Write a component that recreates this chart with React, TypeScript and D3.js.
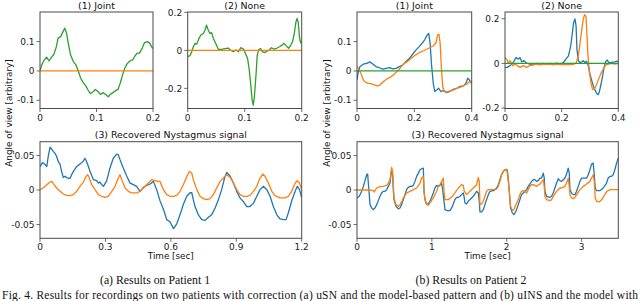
import React, { useEffect } from "react";
import * as d3 from "d3";

type Pt = [number, number];

const BLUE = "#1f77b4";
const ORANGE = "#ff7f0e";
const GREEN = "#2ca02c";

// ---------- Patient 1, panel (1) Joint ----------
const p1JointGreen: Pt[] = [
  [0, 0], [0.003, 0.02], [0.0076, 0.038], [0.0118, 0.047], [0.016, 0.034], [0.0206, 0.047],
  [0.0247, 0.057], [0.029, 0.083], [0.032, 0.112], [0.0365, 0.117], [0.041, 0.135], [0.044, 0.146],
  [0.047, 0.129], [0.05, 0.095], [0.054, 0.055], [0.059, 0.032], [0.0635, 0.021], [0.068, -0.002],
  [0.072, -0.025], [0.0765, -0.04], [0.081, -0.051], [0.085, -0.065], [0.089, -0.077], [0.094, -0.071],
  [0.098, -0.063], [0.103, -0.071], [0.107, -0.08], [0.112, -0.074], [0.116, -0.08], [0.121, -0.088],
  [0.125, -0.079], [0.129, -0.074], [0.134, -0.067], [0.138, -0.063], [0.142, -0.042], [0.146, -0.014],
  [0.15, 0.009], [0.154, 0.024], [0.159, 0.034], [0.164, 0.038], [0.168, 0.051], [0.172, 0.061],
  [0.176, 0.061], [0.181, 0.078], [0.185, 0.097], [0.19, 0.1], [0.194, 0.095], [0.199, 0.078], [0.2, 0.08],
];
const p1JointOrange: Pt[] = [[0, 0], [0.2, 0]];

// ---------- Patient 1, panel (2) None ----------
const p1NoneGreen: Pt[] = [
  [0, -0.033], [0.004, -0.028], [0.007, -0.007], [0.0099, 0.019], [0.013, 0.037], [0.016, 0.033],
  [0.019, 0.058], [0.023, 0.081], [0.0275, 0.089], [0.0304, 0.107], [0.033, 0.133], [0.036, 0.107],
  [0.039, 0.089], [0.042, 0.093], [0.045, 0.063], [0.049, 0.037], [0.054, 0.005], [0.06, 0.005],
  [0.065, 0.009], [0.071, 0.012], [0.075, 0.002], [0.08, -0.007], [0.085, 0.002], [0.089, -0.007],
  [0.093, 0.014], [0.098, 0.007], [0.1, -0.007], [0.105, -0.042], [0.108, -0.103], [0.111, -0.191],
  [0.113, -0.26], [0.115, -0.288], [0.117, -0.244], [0.12, -0.121], [0.122, -0.025], [0.125, 0.005],
  [0.128, 0.009], [0.131, -0.007], [0.135, -0.012], [0.14, -0.0035], [0.143, 0.002], [0.147, 0.014],
  [0.151, 0.007], [0.156, 0.011], [0.161, 0.019], [0.165, 0.026], [0.169, 0.037], [0.1725, 0.025],
  [0.177, 0.011], [0.181, 0.028], [0.184, 0.046], [0.187, 0.089], [0.19, 0.151], [0.192, 0.168],
  [0.194, 0.146], [0.196, 0.072], [0.198, 0.04], [0.2, 0.046],
];
const p1NoneOrange: Pt[] = [[0, 0], [0.2, 0]];

// ---------- Patient 2, panel (1) Joint ----------
const p2JointBlue: Pt[] = [
  [0, -0.031], [0.0047, -0.002], [0.0105, 0.015], [0.022, 0.023], [0.034, 0.026], [0.045, 0.031],
  [0.055, 0.024], [0.066, 0.015], [0.078, 0.011], [0.09, 0.006], [0.101, 0.009], [0.113, 0.011],
  [0.124, 0.007], [0.136, 0.009], [0.148, 0.015], [0.159, 0.02], [0.171, 0.032], [0.183, 0.043],
  [0.194, 0.057], [0.206, 0.072], [0.217, 0.083], [0.229, 0.097], [0.237, 0.108], [0.245, 0.123],
  [0.25, 0.128], [0.255, 0.094], [0.26, 0.02], [0.266, -0.042], [0.271, -0.07], [0.278, -0.065],
  [0.285, -0.059], [0.292, -0.07], [0.301, -0.067], [0.313, -0.074], [0.324, -0.07], [0.336, -0.0625],
  [0.348, -0.059], [0.359, -0.053], [0.371, -0.051], [0.38, -0.042], [0.386, -0.025], [0.392, -0.031],
  [0.4, -0.042],
];
const p2JointOrange: Pt[] = [
  [0, 0.015], [0.0047, 0.009], [0.0105, -0.002], [0.016, -0.014], [0.022, -0.031], [0.03, -0.039],
  [0.04, -0.042], [0.051, -0.044], [0.063, -0.048], [0.071, -0.051], [0.08, -0.048], [0.092, -0.036],
  [0.103, -0.028], [0.115, -0.022], [0.127, -0.014], [0.138, -0.003], [0.15, 0.009], [0.162, 0.024],
  [0.173, 0.03], [0.185, 0.04], [0.197, 0.049], [0.208, 0.057], [0.22, 0.064], [0.231, 0.068],
  [0.243, 0.074], [0.255, 0.08], [0.266, 0.085], [0.276, 0.097], [0.281, 0.123], [0.286, 0.125],
  [0.29, 0.094], [0.294, 0.015], [0.299, -0.053], [0.303, -0.067], [0.313, -0.072], [0.324, -0.068],
  [0.336, -0.065], [0.348, -0.059], [0.359, -0.056], [0.371, -0.051], [0.383, -0.044], [0.394, -0.036],
  [0.4, -0.036],
];
const p2JointGreen: Pt[] = [[0, 0], [0.4, 0]];

// ---------- Patient 2, panel (2) None ----------
const p2NoneBlue: Pt[] = [
  [0, -0.018], [0.008, -0.018], [0.018, -0.01], [0.029, 0.004], [0.039, 0.026], [0.047, 0.019],
  [0.053, 0.026], [0.059, 0.007], [0.067, 0.012], [0.076, 0.001], [0.088, -0.003], [0.1, -0.007],
  [0.112, 0], [0.124, -0.004], [0.135, 0], [0.147, -0.004], [0.159, 0], [0.171, -0.003],
  [0.182, 0.001], [0.194, -0.003], [0.206, 0.004], [0.215, 0.019], [0.224, 0.034], [0.232, 0.078],
  [0.238, 0.137], [0.242, 0.181], [0.247, 0.199], [0.251, 0.166], [0.254, 0.063], [0.259, 0.012],
  [0.265, 0.004], [0.271, 0.007], [0.276, 0.012], [0.282, 0.004], [0.288, 0.01], [0.294, -0.01],
  [0.3, -0.047], [0.306, -0.076], [0.312, -0.101], [0.318, -0.121], [0.324, -0.135], [0.329, -0.14],
  [0.333, -0.128], [0.338, -0.099], [0.344, -0.062], [0.349, -0.022], [0.355, 0.007], [0.361, 0.015],
  [0.368, 0.001], [0.376, 0.004], [0.388, 0.007], [0.394, 0.01], [0.4, 0.007],
];
const p2NoneOrange: Pt[] = [
  [0, 0.026], [0.006, 0.019], [0.012, 0.001], [0.018, 0.012], [0.027, -0.01], [0.035, -0.003],
  [0.044, -0.01], [0.053, -0.018], [0.065, -0.01], [0.076, -0.018], [0.088, -0.01], [0.1, -0.006],
  [0.112, -0.003], [0.124, -0.007], [0.135, -0.003], [0.147, -0.006], [0.159, -0.003], [0.171, -0.007],
  [0.182, -0.003], [0.194, -0.006], [0.206, -0.004], [0.218, -0.006], [0.229, -0.006], [0.241, -0.004],
  [0.251, 0.001], [0.259, 0.034], [0.265, 0.093], [0.271, 0.151], [0.276, 0.196], [0.281, 0.218],
  [0.286, 0.21], [0.289, 0.137], [0.293, 0.034], [0.298, -0.04], [0.304, -0.091], [0.309, -0.116],
  [0.315, -0.116], [0.321, -0.101], [0.329, -0.076], [0.338, -0.047], [0.347, -0.025], [0.356, -0.007],
  [0.365, -0.003], [0.376, 0], [0.388, -0.003], [0.4, 0],
];
const p2NoneGreen: Pt[] = [[0, 0], [0.4, 0]];

// ---------- Patient 1, (3) Recovered Nystagmus signal ----------
const p1RecBlue: Pt[] = [
  [0, 0.034], [0.012, 0.04], [0.023, 0.037], [0.031, 0.034], [0.038, 0.049], [0.046, 0.062],
  [0.054, 0.059], [0.061, 0.056], [0.069, 0.053], [0.076, 0.049], [0.084, 0.041], [0.092, 0.037],
  [0.099, 0.027], [0.107, 0.018], [0.115, 0.02], [0.122, 0.018], [0.13, 0.017], [0.138, 0.017],
  [0.145, 0.022], [0.153, 0.027], [0.168, 0.034], [0.183, 0.0375], [0.199, 0.042], [0.206, 0.046],
  [0.214, 0.041], [0.222, 0.034], [0.229, 0.027], [0.245, 0.015], [0.26, 0.0135], [0.268, 0.01],
  [0.275, 0.0115], [0.283, 0.0077], [0.291, 0.0053], [0.306, 0.0135], [0.321, 0.032], [0.336, 0.046],
  [0.352, 0.052], [0.359, 0.051], [0.367, 0.044], [0.382, 0.032], [0.398, 0.02], [0.413, 0.01],
  [0.428, 0.0077], [0.443, 0.0053], [0.459, -0.0019], [0.474, 0.0038], [0.489, 0.0067], [0.505, 0.0087],
  [0.52, 0.0125], [0.535, 0.0005], [0.55, -0.0154], [0.566, -0.028], [0.581, -0.043], [0.596, -0.046],
  [0.612, -0.056], [0.627, -0.049], [0.642, -0.036], [0.657, -0.021], [0.673, -0.009], [0.688, -0.004],
  [0.696, -0.004], [0.703, -0.014], [0.711, -0.024], [0.726, -0.036], [0.742, -0.043], [0.757, -0.044],
  [0.771, -0.04], [0.787, -0.036], [0.803, -0.026], [0.818, -0.014], [0.833, 0.0005], [0.846, 0.017],
  [0.856, 0.0255], [0.872, 0.02], [0.887, 0.01], [0.902, -0.002], [0.917, -0.0115], [0.933, -0.017],
  [0.948, -0.024], [0.963, -0.024], [0.979, -0.019], [0.994, -0.009], [1.009, 0.0005], [1.024, 0.0053],
  [1.04, 0.0005], [1.055, -0.009], [1.07, -0.024], [1.086, -0.036], [1.101, -0.042], [1.116, -0.043],
  [1.128, -0.043], [1.139, -0.033], [1.154, -0.016], [1.17, -0.0019], [1.18, 0.0053], [1.19, 0.0005],
  [1.2, -0.0115],
];
const p1RecOrange: Pt[] = [
  [0, 0.0005], [0.015, 0.0029], [0.031, 0.0077], [0.046, 0.0115], [0.054, 0.0125], [0.061, 0.0091],
  [0.076, 0.0029], [0.092, -0.0019], [0.107, -0.0058], [0.122, -0.0077], [0.138, -0.0082], [0.153, -0.0067],
  [0.168, -0.0019], [0.183, 0.0053], [0.199, 0.0115], [0.211, 0.0197], [0.219, 0.0221], [0.226, 0.0173],
  [0.237, 0.0077], [0.252, 0.0005], [0.268, -0.0067], [0.283, -0.0091], [0.298, -0.0106], [0.313, -0.0091],
  [0.329, -0.0019], [0.344, 0.0053], [0.359, 0.0173], [0.367, 0.0221], [0.375, 0.0149], [0.39, 0.0029],
  [0.405, -0.0019], [0.42, -0.0043], [0.443, -0.0043], [0.459, -0.0019], [0.474, 0.0029], [0.489, 0.0077],
  [0.512, 0.0149], [0.528, 0.0135], [0.538, 0.0125], [0.55, 0.0125], [0.566, 0.0005], [0.581, -0.0067],
  [0.596, -0.0091], [0.612, -0.0091], [0.627, -0.0077], [0.642, -0.0019], [0.657, 0.0077], [0.673, 0.0197],
  [0.685, 0.0269], [0.696, 0.0245], [0.703, 0.0149], [0.719, 0.0005], [0.734, -0.0091], [0.749, -0.0125],
  [0.765, -0.0139], [0.78, -0.0125], [0.795, -0.0067], [0.81, 0.0029], [0.826, 0.0125], [0.841, 0.0173],
  [0.856, 0.0221], [0.872, 0.0183], [0.887, 0.0101], [0.902, 0.0005], [0.917, -0.0067], [0.933, -0.0091],
  [0.948, -0.0091], [0.963, -0.0077], [0.979, -0.0019], [0.994, 0.0053], [1.009, 0.0173], [1.022, 0.0231],
  [1.032, 0.0197], [1.047, 0.0101], [1.063, -0.0019], [1.078, -0.0082], [1.101, -0.0115], [1.124, -0.0115],
  [1.139, -0.0091], [1.154, -0.0019], [1.17, 0.0101], [1.18, 0.0135], [1.19, 0.0101], [1.2, 0.0005],
];

// ---------- Patient 2, (3) Recovered Nystagmus signal ----------
const p2RecBlue: Pt[] = [
  [0, -0.0115], [0.031, -0.0091], [0.062, -0.0019], [0.085, 0.0053], [0.107, 0.0135], [0.129, 0.0221],
  [0.142, 0.0231], [0.16, -0.0019], [0.174, -0.0212], [0.196, -0.026], [0.218, -0.0284], [0.24, -0.026],
  [0.263, -0.0212], [0.285, -0.0154], [0.307, -0.0091], [0.329, -0.0043], [0.352, -0.0019], [0.374, -0.0019],
  [0.396, 0.0005], [0.418, 0.0053], [0.441, 0.0101], [0.454, 0.0221], [0.463, 0.0293], [0.476, 0.0221],
  [0.485, 0.0005], [0.494, -0.0139], [0.521, -0.0236], [0.552, -0.0274], [0.574, -0.026], [0.596, -0.0212],
  [0.619, -0.0139], [0.641, -0.0067], [0.663, 0.0005], [0.685, 0.0038], [0.708, 0.0053], [0.73, 0.0053],
  [0.752, 0.0067], [0.774, 0.0125], [0.797, 0.0197], [0.819, 0.0245], [0.841, 0.0293], [0.863, 0.0308],
  [0.886, 0.0317], [0.895, -0.0019], [0.908, -0.0139], [0.93, -0.0202], [0.952, -0.0202], [0.975, -0.0163],
  [0.997, -0.0106], [1.019, -0.0043], [1.041, 0.0029], [1.064, 0.0067], [1.086, 0.0053], [1.108, 0.0067],
  [1.13, 0.0101], [1.144, 0.0005], [1.162, -0.0163], [1.175, -0.0284], [1.197, -0.0298], [1.242, -0.0298],
  [1.264, -0.026], [1.286, -0.0202], [1.308, -0.0139], [1.331, -0.0106], [1.353, -0.0106], [1.375, -0.0091],
  [1.397, -0.0067], [1.42, -0.0043], [1.429, -0.0091], [1.442, -0.0188], [1.464, -0.0202], [1.486, -0.0163],
  [1.509, -0.0139], [1.531, -0.0115], [1.553, -0.0091], [1.575, -0.0058], [1.598, -0.0019], [1.62, -0.0043],
  [1.633, -0.0163], [1.642, -0.0317], [1.664, -0.0317], [1.687, -0.0284], [1.709, -0.0212], [1.731, -0.0139],
  [1.754, -0.0067], [1.776, -0.0019], [1.82, -0.001], [1.843, 0.0005], [1.865, 0.0029], [1.887, 0.0077],
  [1.909, 0.0149], [1.931, 0.0221], [1.954, 0.0269], [1.976, 0.0293], [2.007, 0.0293], [2.02, 0.0173],
  [2.034, -0.0019], [2.051, -0.026], [2.074, -0.0332], [2.096, -0.0356], [2.123, -0.0308], [2.154, -0.0212],
  [2.176, -0.0139], [2.198, -0.0067], [2.221, -0.0043], [2.243, -0.0019], [2.265, 0.0005], [2.287, 0.0053],
  [2.31, 0.0087], [2.332, 0.0125], [2.354, 0.0149], [2.376, 0.0149], [2.399, 0.0125], [2.421, 0.0135],
  [2.443, 0.0173], [2.465, 0.0173], [2.488, 0.0245], [2.501, 0.0173], [2.51, -0.0019], [2.532, -0.0091],
  [2.577, -0.0106], [2.599, -0.0091], [2.621, -0.0043], [2.643, 0.0029], [2.666, 0.0101], [2.688, 0.0163],
  [2.71, 0.0135], [2.733, 0.0125], [2.755, 0.0149], [2.777, 0.0173], [2.799, 0.0231], [2.821, 0.0317],
  [2.835, 0.0245], [2.844, 0.0005], [2.866, -0.0043], [2.889, -0.0067], [2.911, -0.0067], [2.933, -0.0019],
  [2.955, 0.0053], [2.978, 0.0125], [3.0, 0.0173], [3.022, 0.0173], [3.067, 0.0173], [3.089, 0.0221],
  [3.111, 0.0293], [3.133, 0.0375], [3.155, 0.039], [3.169, 0.0221], [3.182, 0.0029], [3.2, -0.001],
  [3.244, -0.001], [3.289, 0.0029], [3.333, 0.0101], [3.355, 0.0173], [3.378, 0.0197], [3.4, 0.0197],
  [3.422, 0.0221], [3.444, 0.0293], [3.467, 0.0389], [3.489, 0.0462],
];
const p2RecOrange: Pt[] = [
  [0, 0], [0.174, 0], [0.218, -0.001], [0.231, -0.0029], [0.24, -0.001], [0.263, 0.0029],
  [0.307, 0.0048], [0.352, 0.0053], [0.396, 0.0067], [0.418, 0.0101], [0.441, 0.0149], [0.463, 0.0327],
  [0.476, 0.0269], [0.494, -0.0115], [0.521, -0.0212], [0.552, -0.0236], [0.574, -0.0212], [0.596, -0.0173],
  [0.619, -0.0115], [0.663, -0.0043], [0.708, -0.0019], [0.752, 0.0005], [0.797, 0.0029], [0.841, 0.0101],
  [0.863, 0.0173], [0.886, 0.0197], [0.895, -0.0019], [0.908, -0.0139], [0.93, -0.0212], [0.952, -0.0221],
  [0.975, -0.0188], [1.019, -0.0115], [1.064, -0.0019], [1.086, 0.0053], [1.108, 0.0077], [1.13, 0.0125],
  [1.153, 0.0173], [1.162, -0.0019], [1.175, -0.0139], [1.219, -0.0139], [1.264, -0.0106], [1.308, -0.0043],
  [1.353, 0.0029], [1.397, 0.0077], [1.42, 0.0067], [1.433, -0.0019], [1.464, -0.0067], [1.509, -0.0019],
  [1.553, 0.0029], [1.598, 0.0077], [1.62, 0.0183], [1.633, 0.0125], [1.642, -0.0212], [1.664, -0.0202],
  [1.687, -0.0163], [1.709, -0.0091], [1.731, -0.0019], [1.754, 0.0005], [1.82, 0.0005], [1.865, 0.0014],
  [1.887, 0.0053], [1.909, 0.0125], [1.931, 0.0221], [1.954, 0.0269], [1.976, 0.0293], [1.998, 0.0303],
  [2.012, 0.0221], [2.034, -0.0019], [2.051, -0.0236], [2.074, -0.0298], [2.096, -0.0284], [2.123, -0.0212],
  [2.154, -0.0139], [2.176, -0.0067], [2.198, -0.0019], [2.221, -0.001], [2.243, -0.0019], [2.265, -0.0043],
  [2.287, 0.0005], [2.31, 0.0053], [2.332, 0.0077], [2.354, 0.0077], [2.399, 0.0053], [2.443, 0.0087],
  [2.465, 0.0115], [2.488, 0.0149], [2.501, 0.0053], [2.51, -0.0091], [2.532, -0.0139], [2.577, -0.0154],
  [2.599, -0.0139], [2.621, -0.0091], [2.666, -0.0019], [2.71, 0.0029], [2.733, 0.0029], [2.777, 0.0053],
  [2.808, 0.0125], [2.821, 0.0173], [2.835, 0.0053], [2.844, -0.0067], [2.866, -0.0115], [2.889, -0.0125],
  [2.911, -0.0106], [2.933, -0.0067], [2.978, 0.0005], [3.022, 0.0053], [3.067, 0.0087], [3.111, 0.0125],
  [3.155, 0.0221], [3.169, 0.0125], [3.182, -0.0115], [3.2, -0.0163], [3.236, -0.0173], [3.271, -0.0139],
  [3.293, -0.0091], [3.338, -0.0019], [3.382, 0.0005], [3.489, 0.0005],
];

// ---------- ticks & texts ----------
const ticksX02 = [0, 0.1, 0.2];
const ticksX04 = [0, 0.2, 0.4];
const ticksYJoint = [0.1, 0, -0.1];
const ticksYNone = [0.2, 0, -0.2];
const ticksYRec = [0.05, 0, -0.05];
const ticksXRec1 = [0, 0.3, 0.6, 0.9, 1.2];
const ticksXRec2 = [0, 1, 2, 3];

const titleJoint = "(1) Joint";
const titleNone = "(2) None";
const titleRec = "(3) Recovered Nystagmus signal";
const yLabel = "Angle of view [arbitrary]";
const xLabel = "Time [sec]";
const captionA = "(a) Results on Patient 1";
const captionB = "(b) Results on Patient 2";
const figText =
  "Fig. 4.   Results for recordings on two patients with correction (a) uSN and the model-based pattern and (b) uINS and the model with";

const FONT = "DejaVu Sans, sans-serif";
const SERIF = "Liberation Serif, Times New Roman, serif";

const fmt = (v: number) => (v === 0 ? "0" : String(v));

interface SeriesDef {
  data: Pt[];
  color: string;
}
interface PanelProps {
  id: string;
  box: [number, number, number, number];
  xDomain: [number, number];
  yDomain: [number, number];
  xTicks: number[];
  yTicks: number[];
  title: string;
  titleDy: number;
  series: SeriesDef[];
}

function Panel({ id, box, xDomain, yDomain, xTicks, yTicks, title, titleDy, series }: PanelProps) {
  const [l, t, r, b] = box;
  const x = d3.scaleLinear().domain(xDomain).range([l, r]);
  const y = d3.scaleLinear().domain(yDomain).range([b, t]);
  const line = d3
    .line<Pt>()
    .x((d) => x(d[0]))
    .y((d) => y(d[1]));
  return (
    <g>
      <defs>
        <clipPath id={id}>
          <rect x={l} y={t} width={r - l} height={b - t} />
        </clipPath>
      </defs>
      <g clipPath={`url(#${id})`}>
        {series.map((s, i) => (
          <path
            key={i}
            d={line(s.data) || ""}
            fill="none"
            stroke={s.color}
            strokeWidth={1.3}
            strokeLinejoin="round"
          />
        ))}
      </g>
      <rect x={l} y={t} width={r - l} height={b - t} fill="none" stroke="#4a4a4a" strokeWidth={1} />
      {xTicks.map((v) => (
        <g key={"x" + v}>
          <line x1={x(v)} x2={x(v)} y1={b} y2={b + 3.5} stroke="#4a4a4a" strokeWidth={0.8} />
          <text x={x(v)} y={b + 12} textAnchor="middle" fontSize={9} fontFamily={FONT} fill="#222">
            {fmt(v)}
          </text>
        </g>
      ))}
      {yTicks.map((v) => (
        <g key={"y" + v}>
          <line x1={l - 3.5} x2={l} y1={y(v)} y2={y(v)} stroke="#4a4a4a" strokeWidth={0.8} />
          <text x={l - 5.5} y={y(v) + 3.2} textAnchor="end" fontSize={9} fontFamily={FONT} fill="#222">
            {fmt(v)}
          </text>
        </g>
      ))}
      <text x={(l + r) / 2} y={t - titleDy} textAnchor="middle" fontSize={9.4} fontFamily={FONT} fill="#111">
        {title}
      </text>
    </g>
  );
}

export default function App() {
  useEffect(() => {
    document.body.style.margin = "0";
  }, []);
  const topT = 12;
  const topB = 108.5;
  const botT = 141.7;
  const botB = 238.3;
  const yRec: [number, number] = [-0.07, 0.07];
  return (
    <svg
      width={640}
      height={301}
      viewBox="0 0 640 301"
      style={{ position: "absolute", left: 0, top: 0, background: "#fff" }}
    >
      <rect x={0} y={0} width={640} height={301} fill="#fff" />
      <Panel
        id="c1"
        box={[40, topT, 153, topB]}
        xDomain={[0, 0.2]}
        yDomain={[-0.128, 0.201]}
        xTicks={ticksX02}
        yTicks={ticksYJoint}
        title={titleJoint}
        titleDy={3.5}
        series={[
          { data: p1JointGreen, color: GREEN },
          { data: p1JointOrange, color: ORANGE },
        ]}
      />
      <Panel
        id="c2"
        box={[187.7, topT, 301.7, topB]}
        xDomain={[0, 0.2]}
        yDomain={[-0.306, 0.202]}
        xTicks={ticksX02}
        yTicks={ticksYNone}
        title={titleNone}
        titleDy={3.5}
        series={[
          { data: p1NoneGreen, color: GREEN },
          { data: p1NoneOrange, color: ORANGE },
        ]}
      />
      <Panel
        id="c3"
        box={[357, topT, 471.7, topB]}
        xDomain={[0, 0.4]}
        yDomain={[-0.128, 0.201]}
        xTicks={ticksX04}
        yTicks={ticksYJoint}
        title={titleJoint}
        titleDy={3.5}
        series={[
          { data: p2JointBlue, color: BLUE },
          { data: p2JointOrange, color: ORANGE },
          { data: p2JointGreen, color: GREEN },
        ]}
      />
      <Panel
        id="c4"
        box={[505, topT, 618.3, topB]}
        xDomain={[0, 0.4]}
        yDomain={[-0.202, 0.23]}
        xTicks={ticksX04}
        yTicks={ticksYNone}
        title={titleNone}
        titleDy={3.5}
        series={[
          { data: p2NoneBlue, color: BLUE },
          { data: p2NoneOrange, color: ORANGE },
          { data: p2NoneGreen, color: GREEN },
        ]}
      />
      <Panel
        id="c5"
        box={[40, botT, 301.7, botB]}
        xDomain={[0, 1.2]}
        yDomain={yRec}
        xTicks={ticksXRec1}
        yTicks={ticksYRec}
        title={titleRec}
        titleDy={4.2}
        series={[
          { data: p1RecBlue, color: BLUE },
          { data: p1RecOrange, color: ORANGE },
        ]}
      />
      <Panel
        id="c6"
        box={[357, botT, 618.3, botB]}
        xDomain={[0, 3.49]}
        yDomain={yRec}
        xTicks={ticksXRec2}
        yTicks={ticksYRec}
        title={titleRec}
        titleDy={4.2}
        series={[
          { data: p2RecBlue, color: BLUE },
          { data: p2RecOrange, color: ORANGE },
        ]}
      />
      <text
        transform="translate(12,113) rotate(-90)"
        textAnchor="middle"
        fontSize={8.8}
        fontFamily={FONT}
        fill="#111"
      >
        {yLabel}
      </text>
      <text
        transform="translate(330,113) rotate(-90)"
        textAnchor="middle"
        fontSize={8.8}
        fontFamily={FONT}
        fill="#111"
      >
        {yLabel}
      </text>
      <text x={170.8} y={259} textAnchor="middle" fontSize={8.8} fontFamily={FONT} fill="#111">
        {xLabel}
      </text>
      <text x={487.6} y={259} textAnchor="middle" fontSize={8.8} fontFamily={FONT} fill="#111">
        {xLabel}
      </text>
      <text x={155} y={284} textAnchor="middle" fontSize={11.8} fontFamily={SERIF} fill="#111">
        {captionA}
      </text>
      <text x={471} y={284} textAnchor="middle" fontSize={11.8} fontFamily={SERIF} fill="#111">
        {captionB}
      </text>
      <text
        x={2}
        y={299}
        fontSize={11.5}
        fontFamily={SERIF}
        fill="#111"
        textLength={636}
        lengthAdjust="spacing"
      >
        {figText}
      </text>
    </svg>
  );
}
